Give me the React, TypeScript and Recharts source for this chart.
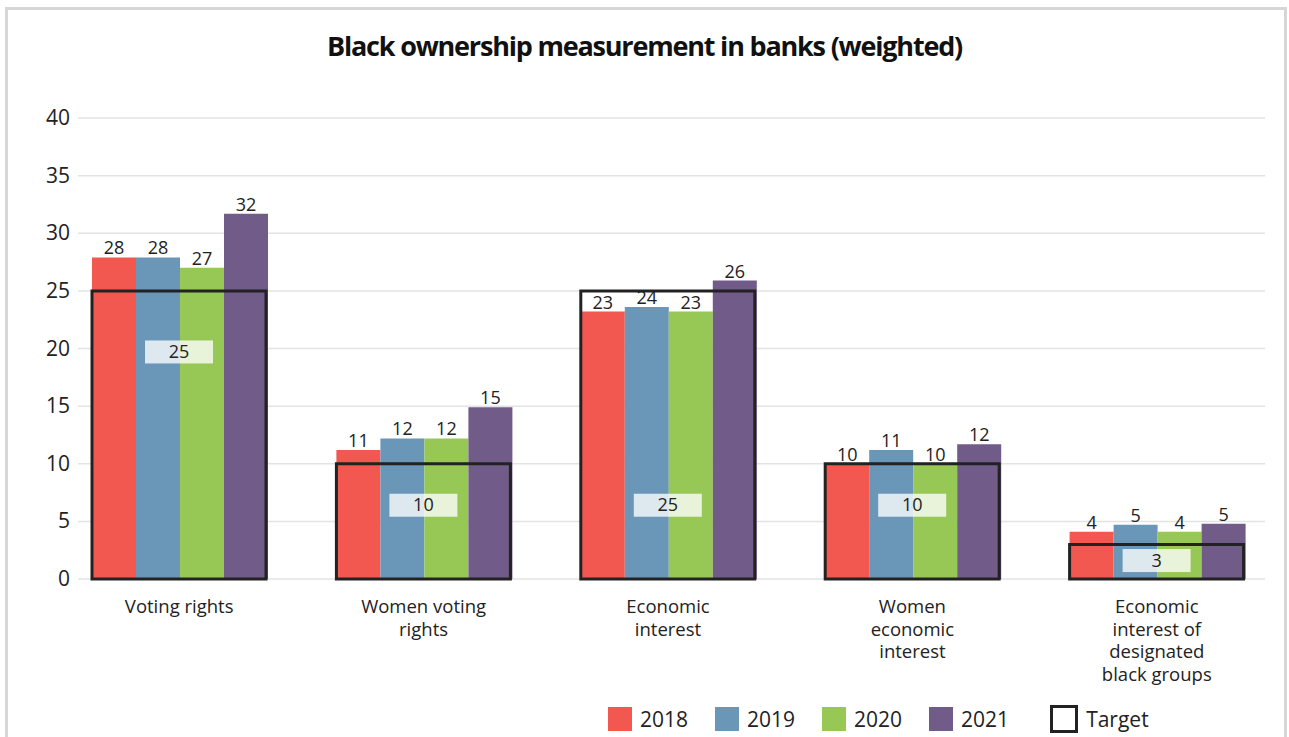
import React from "react";
import { BarChart, Bar, XAxis, YAxis, CartesianGrid, LabelList } from "recharts";

const categories = [
  "Voting rights",
  "Women voting rights",
  "Economic interest",
  "Women economic interest",
  "Economic interest of designated black groups",
];
const categoryLines = [
  ["Voting rights"],
  ["Women voting", "rights"],
  ["Economic", "interest"],
  ["Women", "economic", "interest"],
  ["Economic", "interest of", "designated", "black groups"],
];
const v2018 = [27.9, 11.2, 23.2, 10.0, 4.1];
const v2019 = [27.9, 12.2, 23.6, 11.2, 4.7];
const v2020 = [27.0, 12.2, 23.2, 10.0, 4.1];
const v2021 = [31.7, 14.9, 25.9, 11.7, 4.8];
const target = [25, 10, 25, 10, 3];
// where the target's label box sits, in axis units
const targetLabelLevel = [19.7, 6.4, 6.4, 6.4, 1.6];
const yTicks = [0, 5, 10, 15, 20, 25, 30, 35, 40];

const years = [
  { key: "y2018", name: "2018", color: "#F2584F", values: v2018 },
  { key: "y2019", name: "2019", color: "#6A96B8", values: v2019 },
  { key: "y2020", name: "2020", color: "#97C855", values: v2020 },
  { key: "y2021", name: "2021", color: "#715B88", values: v2021 },
];

const data = categories.map((cat, i) => {
  const row: Record<string, any> = { cat, target: target[i] };
  years.forEach(y => (row[y.key] = y.values[i]));
  return row;
});

const FONT = "'Open Sans', 'Noto Sans', sans-serif";
const INK = "#222";

const CatTick = (props: any) => {
  const { x, y, index } = props;
  const lines = categoryLines[index] || [];
  return (
    <g>
      {lines.map((l, i) => (
        <text key={i} x={x} y={y + 26 + i * 22.5} textAnchor="middle" fontFamily={FONT} fontSize={18.5} fill={INK}>
          {l}
        </text>
      ))}
    </g>
  );
};

const YTick = (props: any) => {
  const { x, y, payload } = props;
  return (
    <text x={x + 13} y={y} dy={7} textAnchor="end" fontFamily={FONT} fontSize={21} fill={INK}>
      {payload.value}
    </text>
  );
};

const TargetLabel = (props: any) => {
  const { x, y, width, height, value, index } = props;
  if (!value) return null;
  const perUnit = height / value;
  const cy = y + height - targetLabelLevel[index] * perUnit;
  const cx = x + width / 2;
  return (
    <g>
      <rect x={cx - 34} y={cy - 11.5} width={68} height={23} fill="#fff" fillOpacity={0.78} />
      <text x={cx} y={cy} dy={6} textAnchor="middle" fontFamily={FONT} fontSize={18} fill={INK}>
        {value}
      </text>
    </g>
  );
};

export default function App() {
  return (
    <div style={{ position: "absolute", left: 0, top: 0, width: 1289, height: 737, overflow: "hidden", background: "#fff" }}>
      <div style={{ position: "absolute", left: 5, top: 7, width: 1276, height: 760, border: "3px solid #d6d6d6" }} />
      <div
        style={{
          position: "absolute", left: 0, top: 27, width: 1289, textAlign: "center",
          fontFamily: FONT, fontWeight: 700, fontSize: 27, letterSpacing: -1.2, color: "#111",
        }}
      >
        Black ownership measurement in banks (weighted)
      </div>
      <div style={{ position: "absolute", left: 0, top: 0 }}>
        <BarChart
          width={1289}
          height={737}
          data={data}
          margin={{ top: 118, right: 10, bottom: 0, left: 0 }}
          barCategoryGap={35}
          barGap={0}
        >
          <CartesianGrid x={78} width={1187} vertical={false} stroke="#e3e3e3" strokeWidth={1.5} />
          <XAxis dataKey="cat" axisLine={false} tickLine={false} interval={0} tick={<CatTick />} height={158} />
          <XAxis xAxisId="t" dataKey="cat" hide />
          <YAxis
            domain={[0, 40]}
            ticks={yTicks}
            axisLine={false}
            tickLine={false}
            tickSize={0}
            tickMargin={0}
            width={57}
            tick={<YTick />}
          />
          {years.map(y => (
            <Bar key={y.key} dataKey={y.key} name={y.name} fill={y.color} isAnimationActive={false}>
              <LabelList
                dataKey={y.key}
                position="top"
                offset={3}
                formatter={(v: any) => Math.round(Number(v))}
                style={{ fontFamily: FONT, fontSize: 18, fill: INK }}
              />
            </Bar>
          ))}
          <Bar
            xAxisId="t"
            dataKey="target"
            name="Target"
            fill="none"
            stroke={INK}
            strokeWidth={3}
            isAnimationActive={false}
          >
            <LabelList dataKey="target" content={<TargetLabel />} />
          </Bar>
        </BarChart>
      </div>
      <div
        style={{
          position: "absolute", left: 608, top: 705, display: "flex", alignItems: "center",
          fontFamily: FONT, fontSize: 21, color: INK,
        }}
      >
        {years.map(y => (
          <div key={y.key} style={{ display: "flex", alignItems: "center", marginRight: 27 }}>
            <div style={{ width: 24, height: 24, background: y.color, marginRight: 8 }} />
            <span>{y.name}</span>
          </div>
        ))}
        <div style={{ display: "flex", alignItems: "center", marginLeft: 14 }}>
          <div style={{ width: 22, height: 22, border: `3px solid ${INK}`, marginRight: 8 }} />
          <span>Target</span>
        </div>
      </div>
    </div>
  );
}
